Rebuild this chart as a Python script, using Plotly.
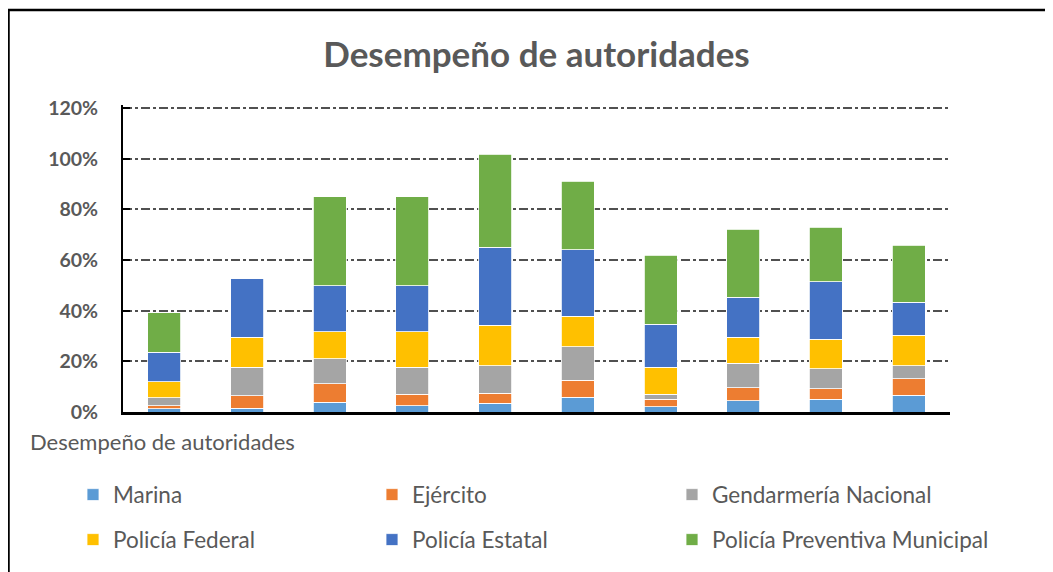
import plotly.graph_objects as go

categories = ["1", "2", "3", "4", "5", "6", "7", "8", "9", "10"]
marina = [0.012, 0.014, 0.039, 0.025, 0.034, 0.059, 0.020, 0.045, 0.051, 0.066]
ejercito = [0.012, 0.050, 0.072, 0.046, 0.041, 0.067, 0.030, 0.051, 0.040, 0.065]
gendarmeria = [0.032, 0.112, 0.100, 0.105, 0.107, 0.131, 0.021, 0.096, 0.080, 0.051]
federal = [0.064, 0.120, 0.106, 0.141, 0.160, 0.121, 0.105, 0.104, 0.116, 0.121]
estatal = [0.116, 0.233, 0.182, 0.182, 0.308, 0.262, 0.171, 0.158, 0.227, 0.131]
municipal = [0.155, 0.0, 0.351, 0.351, 0.367, 0.271, 0.272, 0.267, 0.215, 0.225]
y_ticks = [0, 0.2, 0.4, 0.6, 0.8, 1.0, 1.2]
y_tick_labels = ["0%", "20%", "40%", "60%", "80%", "100%", "120%"]

series = [
    ("Marina", marina, "#5B9BD5"),
    ("Ejército", ejercito, "#ED7D31"),
    ("Gendarmería Nacional", gendarmeria, "#A5A5A5"),
    ("Policía Federal", federal, "#FFC000"),
    ("Policía Estatal", estatal, "#4472C4"),
    ("Policía Preventiva Municipal", municipal, "#70AD47"),
]

FONT = "Lato"
GREY = "#595959"

# page offset (body margin of the html page)
OFF = 8
W, H = 1053 - OFF, 572 - OFF
# plot area in page pixels
PL, PR, PT, PB = 123, 950, 108, 412
YMAX = 1.2
YTOP = 1.212
L = PL - OFF
R = 1053 - PR
T_top_px = PT - (YTOP - YMAX) / YMAX * (PB - PT)
T = T_top_px - OFF
B = H - (PB - OFF)
pw = W - L - R
ph = H - T - B

def px_x(px):
    return (px - OFF - L) / pw

def px_y(py):
    return ((PB - OFF) - (py - OFF)) / ph

legend_names = ["legend", "legend2", "legend3", "legend4", "legend5", "legend6"]
col_x = [73, 372, 672]
row_y = [495, 540]

fig = go.Figure()
for i, (name, vals, color) in enumerate(series):
    fig.add_trace(go.Bar(
        x=categories, y=vals, name=name, legend=legend_names[i], showlegend=True,
        marker=dict(color=color, line=dict(color="white", width=0.8)),
    ))

legend_layout = {}
for i, lg in enumerate(legend_names):
    legend_layout[lg] = dict(
        orientation="h", xanchor="left", yanchor="middle",
        x=px_x(col_x[i % 3]), y=px_y(row_y[i // 3]),
        font=dict(family=FONT, size=22.5, color=GREY), bgcolor="rgba(0,0,0,0)",
        itemwidth=30, visible=True,
    )

fig.update_layout(
    width=W, height=H,
    showlegend=True,
    margin=dict(l=L, r=R, t=T, b=B, autoexpand=False),
    paper_bgcolor="white", plot_bgcolor="white",
    barmode="stack", bargap=0.6,
    title=dict(text="<b>Desempeño de autoridades</b>", x=0.5, xref="paper",
               xanchor="center", y=1 - (55 - OFF) / H, yanchor="middle",
               font=dict(family=FONT, size=35, color=GREY)),
    font=dict(family=FONT, color=GREY),
    xaxis=dict(showticklabels=False, showgrid=False, ticks="",
               showline=True, linecolor="black", linewidth=2.5,
               range=[-0.5, 9.5]),
    yaxis=dict(range=[0, YTOP], tickvals=y_ticks, ticktext=["<b>%s</b>" % t for t in y_tick_labels],
               tickfont=dict(family=FONT, size=19.5, color=GREY),
               showline=True, linecolor="black", linewidth=2,
               ticks="inside", ticklen=7, tickwidth=2, tickcolor="black",
               showgrid=True, gridcolor="#505050", gridwidth=1.8, griddash="dashdot",
               zeroline=False, ticklabelstandoff=19),
    annotations=[dict(text="Desempeño de autoridades", xref="paper", yref="paper",
                      x=px_x(28), y=px_y(442), xanchor="left", yanchor="middle",
                      showarrow=False, font=dict(family=FONT, size=22, color=GREY))],
    shapes=[
        dict(type="line", xref="paper", yref="paper", x0=px_x(8), x1=px_x(1060),
             y0=px_y(10), y1=px_y(10), line=dict(color="black", width=2.5)),
        dict(type="line", xref="paper", yref="paper", x0=px_x(8.5), x1=px_x(8.5),
             y0=px_y(9), y1=px_y(580), line=dict(color="black", width=2.5)),
    ],
    **legend_layout,
)

fig.write_html("out.html")
